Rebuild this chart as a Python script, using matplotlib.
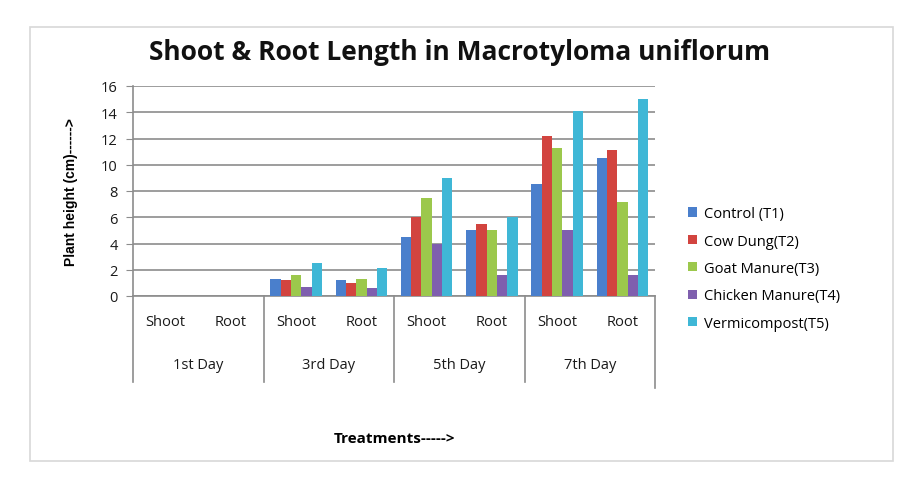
import numpy as np
import matplotlib
matplotlib.use('Agg')
import matplotlib.pyplot as plt
from matplotlib.patches import Rectangle

days = ['1st Day', '3rd Day', '5th Day', '7th Day']
parts = ['Shoot', 'Root']
treatments = ['Control (T1)', 'Cow Dung(T2)', 'Goat Manure(T3)', 'Chicken Manure(T4)', 'Vermicompost(T5)']

# values per category: 1st Shoot, 1st Root, 3rd Shoot, 3rd Root, 5th Shoot, 5th Root, 7th Shoot, 7th Root
control = [0, 0, 1.3, 1.2, 4.5, 5.0, 8.5, 10.5]
cow_dung = [0, 0, 1.2, 1.0, 6.0, 5.5, 12.2, 11.1]
goat_manure = [0, 0, 1.6, 1.3, 7.5, 5.0, 11.3, 7.2]
chicken_manure = [0, 0, 0.7, 0.6, 4.0, 1.6, 5.0, 1.6]
vermicompost = [0, 0, 2.5, 2.1, 9.0, 6.0, 14.1, 15.0]

colors = ['#4a7fcc', '#d2443f', '#9cc84c', '#7f5fae', '#3fb7d6']

plt.rcParams['font.family'] = ['Open Sans', 'DejaVu Sans']

fig = plt.figure(figsize=(9.02, 4.81), dpi=100)
# chart frame
fig.patches.append(Rectangle((30/902, 1-462/481), 863/902, 434/481, transform=fig.transFigure,
                             fill=False, edgecolor='#d8d8d8', linewidth=1.2))

ax = fig.add_axes([133/902, 1-297/481, 522/902, 210/481])

series = [control, cow_dung, goat_manure, chicken_manure, vermicompost]
x = np.arange(len(control))
w = 0.158
for i, (vals, c, lab) in enumerate(zip(series, colors, treatments)):
    ax.bar(x + (i - 2) * w, vals, width=w, color=c, label=lab, zorder=3)

ax.set_xlim(-0.5, len(control) - 0.5)
ax.set_ylim(0, 16)
ax.set_yticks(range(0, 17, 2))
ax.grid(axis='y', color='#8c8c8c', linewidth=1.2, zorder=0)
ax.tick_params(axis='y', length=5, color='#8c8c8c', labelsize=10.5, pad=6, labelcolor='#1a1a1a')
ax.tick_params(axis='x', length=0, labelbottom=False)
for s in ['top', 'right']:
    ax.spines[s].set_visible(False)
ax.spines['left'].set_color('#8c8c8c')
ax.spines['bottom'].set_color('#8c8c8c')
ax.spines['left'].set_linewidth(1.2)
ax.spines['bottom'].set_linewidth(1.2)

tr = ax.get_xaxis_transform()
for j in range(len(control)):
    ax.text(x[j], -0.12, parts[j % 2], transform=tr, ha='center', va='center', fontsize=10.5, color='#1a1a1a')
for k, d in enumerate(days):
    ax.text(2 * k + 0.5, -0.325, d, transform=tr, ha='center', va='center', fontsize=10.5, color='#1a1a1a')
for b in np.arange(-0.5, len(control), 2):
    bottom = -0.44 if b == len(control) - 0.5 else -0.41
    ax.plot([b, b], [0, bottom], transform=tr, color='#8c8c8c', linewidth=1.2, clip_on=False)

fig.text(460/902, 1-52/481, 'Shoot & Root Length in Macrotyloma uniflorum', ha='center', va='center',
         fontsize=19, fontweight='bold', color='#111111')
fig.text(394/902, 1-439/481, 'Treatments----->', ha='center', va='center', fontsize=11, fontweight='bold')
fig.text(71/902, 1-192/481, 'Plant height (cm)------>', ha='center', va='center', rotation=90,
         fontsize=10, fontweight='bold', family='Liberation Sans')

ax.legend(loc='upper left', bbox_to_anchor=(675/902, 1-194/481), bbox_transform=fig.transFigure,
          frameon=False, fontsize=10.5, handlelength=0.6, handleheight=0.6, handletextpad=0.5,
          labelspacing=0.85)

plt.savefig('out.png', dpi=100)
